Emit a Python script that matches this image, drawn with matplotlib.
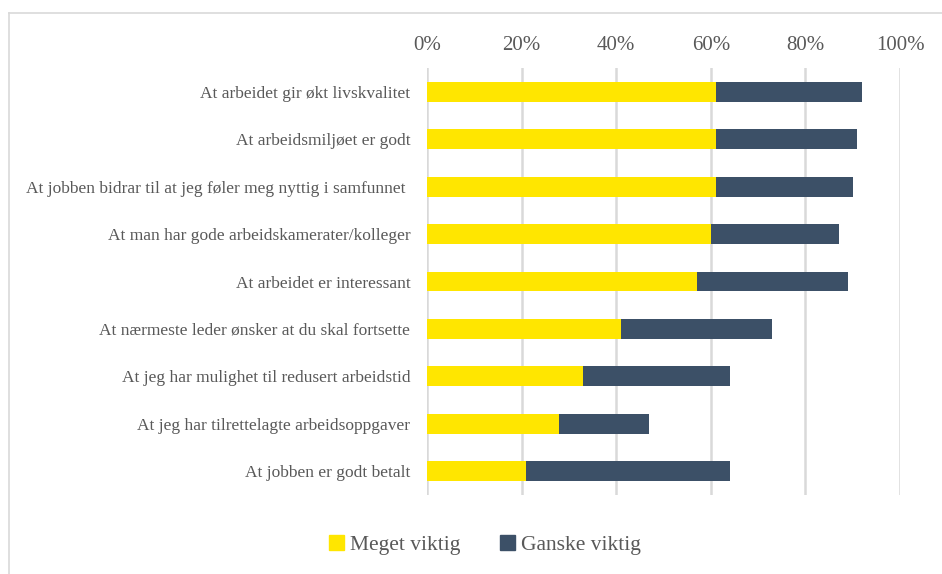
import matplotlib
matplotlib.use('Agg')
import matplotlib.pyplot as plt
from matplotlib.lines import Line2D
from matplotlib.ticker import FuncFormatter

# Data (share of respondents, %)
categories = [
    'At arbeidet gir økt livskvalitet',
    'At arbeidsmiljøet er godt',
    'At jobben bidrar til at jeg føler meg nyttig i samfunnet ',
    'At man har gode arbeidskamerater/kolleger',
    'At arbeidet er interessant',
    'At nærmeste leder ønsker at du skal fortsette',
    'At jeg har mulighet til redusert arbeidstid',
    'At jeg har tilrettelagte arbeidsoppgaver',
    'At jobben er godt betalt',
]
meget_viktig = [61, 61, 61, 60, 57, 41, 33, 28, 21]
ganske_viktig = [31, 30, 29, 27, 32, 32, 31, 19, 43]
series_names = ['Meget viktig', 'Ganske viktig']
xticks = [0, 20, 40, 60, 80, 100]

YELLOW = '#FFE600'
DARK = '#3C5067'
TEXT = '#595959'
GRID = '#D9D9D9'

plt.rcParams['font.family'] = ['Liberation Serif', 'DejaVu Serif']

W, H = 942, 574
fig = plt.figure(figsize=(W / 100, H / 100), dpi=100)
ax = fig.add_axes([427 / W, 1 - 495 / H, (900 - 427) / W, (495 - 68) / H])

y = list(range(len(categories)))
ax.barh(y, meget_viktig, height=0.42, color=YELLOW, label=series_names[0], zorder=3)
ax.barh(y, ganske_viktig, left=meget_viktig, height=0.42, color=DARK,
        label=series_names[1], zorder=3)

ax.set_ylim(len(categories) - 0.5, -0.5)
ax.set_xlim(0, 100)
ax.set_yticks(y)
ax.set_yticklabels(categories, fontsize=12.5, color=TEXT)
ax.set_xticks(xticks)
ax.xaxis.set_major_formatter(FuncFormatter(lambda v, p: '%d%%' % v))
ax.xaxis.tick_top()
ax.tick_params(axis='x', labelsize=15, colors=TEXT, length=0, pad=9)
ax.tick_params(axis='y', length=0, pad=12)
ax.grid(axis='x', color=GRID, linewidth=1.8, zorder=0)
for s in ax.spines.values():
    s.set_visible(False)

handles = [plt.Rectangle((0, 0), 1, 1, color=YELLOW),
           plt.Rectangle((0, 0), 1, 1, color=DARK)]
fig.legend(handles, series_names, loc='center', bbox_to_anchor=(485 / W, 1 - 545 / H),
           ncol=2, frameon=False, fontsize=15.5, handlelength=0.7, handleheight=0.7,
           handletextpad=0.3, columnspacing=1.8, labelcolor=TEXT)

# chart frame (top and left edges visible)
fig.add_artist(Line2D([9 / W, 1.0], [1 - 13 / H, 1 - 13 / H], color=GRID, linewidth=1.2))
fig.add_artist(Line2D([9 / W, 9 / W], [0, 1 - 13 / H], color=GRID, linewidth=1.2))

fig.savefig('out.png', dpi=100)
